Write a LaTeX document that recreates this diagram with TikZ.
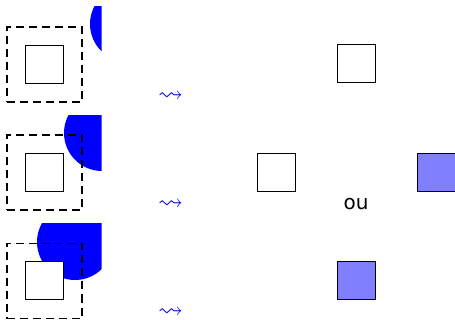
\documentclass[tikz,border=0pt]{standalone}
\usepackage{amssymb}
\usepackage{fontspec}
\newfontfamily\oufont{DejaVu Sans}
\begin{document}
\begin{tikzpicture}[x=1pt,y=-1pt,
  sq/.style={draw,line width=1pt,minimum size=38pt,inner sep=0pt,fill=white},
  bsq/.style={sq,fill=blue!50},
  dbox/.style={draw,dash pattern=on 8pt off 5pt,line width=1.1pt,minimum size=75pt,inner sep=0pt},
  sqarr/.style={text=blue,font=\fontsize{25}{25}\selectfont,inner sep=0pt},
  disc/.style={fill=blue},
  outext/.style={font=\oufont\fontsize{20}{24}\selectfont,inner sep=0pt}]
\useasboundingbox (0,0) rectangle (455,320);
% row 1
\begin{scope}
  \clip (-20,7) rectangle (101.5,130);
  \fill[disc] (128,24) circle[radius=38pt];
\end{scope}
\node[dbox] (d1) at (44.5,64.5) {};
\node[sq] (i1) at (44.5,64.5) {};
\node[sqarr] (a1) at (170.5,96.5) {$\rightsquigarrow$};
\node[sq] (r1) at (356,64) {};
% row 2
\begin{scope}
  \clip (-20,116) rectangle (101.5,240);
  \fill[disc] (102,133) circle[radius=38pt];
\end{scope}
\node[dbox] (d2) at (44.5,172.5) {};
\node[sq] (i2) at (44.5,172.5) {};
\node[sqarr] (a2) at (170.5,205) {$\rightsquigarrow$};
\node[sq] (r2) at (276,172.5) {};
\node[bsq] (b2) at (436,172.5) {};
\node[outext] (ou) at (356,204) {ou};
% row 3
\begin{scope}
  \clip (-20,224) rectangle (101.5,340);
  \fill[disc] (75,242) circle[radius=38pt];
\end{scope}
\node[dbox] (d3) at (44.5,281) {};
\node[sq] (i3) at (44.5,281) {};
\node[sqarr] (a3) at (170.5,313) {$\rightsquigarrow$};
\node[bsq] (b3) at (356,281) {};
\end{tikzpicture}
\end{document}
